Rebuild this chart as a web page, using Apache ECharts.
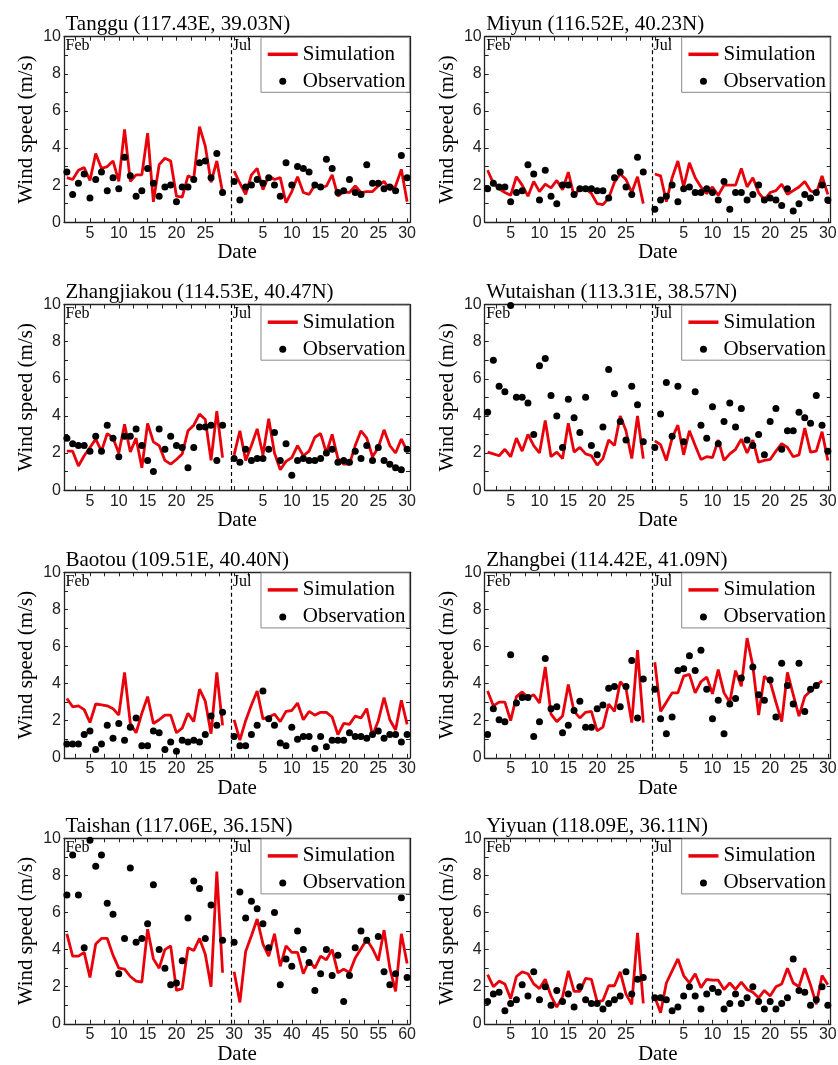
<!DOCTYPE html>
<html lang="en" style="height: 100%">
<head>
<meta charset="utf-8">
<title>Wind speed: simulation vs observation</title>
</head>
<body style="height: 100%; margin: 0; background: #fff">
<div id="container" style="height: 100%"></div>

<script type="text/javascript" src="https://cdn.jsdelivr.net/npm/echarts/dist/echarts.min.js"></script>

<script type="text/javascript">

var stations = [
    'Tanggu (117.43E, 39.03N)', 'Miyun (116.52E, 40.23N)',
    'Zhangjiakou (114.53E, 40.47N)', 'Wutaishan (113.31E, 38.57N)',
    'Baotou (109.51E, 40.40N)', 'Zhangbei (114.42E, 41.09N)',
    'Taishan (117.06E, 36.15N)', 'Yiyuan (118.09E, 36.11N)'
];

// Feb 1..28 sits at x = 1..28, Jul 1..31 at x = 30..60 (dashed divider at 29.5)
var febSim = [
    [2.4, 2.3, 2.8, 2.95, 2.25, 3.7, 2.9, 3.0, 3.3, 2.2, 5.0, 2.2, 2.55, 2.55, 4.8, 1.1, 3.1, 3.45, 3.3, 1.4, 1.35, 2.5, 2.35, 5.15, 4.1, 2.15, 3.3, 1.6],
    [2.8, 2.1, 1.8, 1.6, 1.45, 2.45, 2.0, 1.4, 2.2, 1.65, 2.05, 1.85, 2.25, 1.75, 2.7, 1.4, 1.85, 1.8, 1.55, 1.0, 0.95, 1.3, 2.15, 2.6, 2.3, 1.6, 2.45, 1.0],
    [2.1, 2.1, 1.3, 1.85, 2.3, 2.75, 2.1, 3.05, 2.8, 2.0, 3.55, 2.05, 2.8, 1.2, 3.6, 2.6, 2.4, 1.6, 1.4, 1.65, 1.95, 3.2, 3.5, 4.1, 3.8, 1.6, 4.25, 1.75],
    [2.05, 1.95, 1.85, 2.2, 1.8, 2.8, 2.1, 3.0, 2.4, 2.0, 3.75, 1.8, 2.05, 1.7, 3.6, 2.05, 2.3, 1.95, 1.85, 1.35, 1.7, 2.7, 2.4, 4.0, 3.2, 1.7, 4.0, 1.7],
    [3.2, 2.75, 2.8, 2.6, 1.9, 2.9, 2.85, 2.8, 2.65, 2.3, 4.6, 1.85, 1.35, 2.4, 3.3, 1.85, 2.05, 2.3, 2.3, 1.35, 1.6, 2.4, 1.95, 3.7, 3.05, 1.3, 4.6, 1.75],
    [3.6, 2.8, 3.0, 3.0, 2.0, 3.3, 3.55, 3.25, 3.4, 2.95, 4.9, 2.35, 1.95, 2.25, 3.95, 2.5, 2.15, 2.45, 2.5, 1.45, 1.65, 2.9, 2.5, 4.1, 3.75, 1.9, 5.8, 1.9],
    [4.85, 3.65, 3.65, 3.85, 2.5, 4.3, 4.6, 4.6, 3.7, 3.0, 2.95, 2.55, 2.3, 2.25, 5.1, 3.5, 3.0, 4.0, 4.2, 1.8, 1.9, 4.1, 3.95, 4.6, 3.75, 2.0, 8.2, 2.75],
    [2.65, 2.0, 2.3, 2.15, 1.35, 2.55, 2.8, 2.7, 2.15, 1.9, 2.4, 1.5, 0.9, 1.45, 2.85, 1.75, 1.75, 2.45, 2.4, 1.2, 1.25, 2.05, 2.05, 2.8, 1.6, 1.05, 4.9, 1.1]
];

var febObs = [
    [2.7, 1.5, 2.1, 2.6, 1.3, 2.3, 2.7, 1.7, 2.4, 1.8, 3.5, 2.5, 1.4, 1.7, 2.9, 2.1, 1.4, 1.9, 2.0, 1.1, 1.9, 1.9, 2.3, 3.2, 3.3, 2.4, 3.7, 1.6],
    [1.8, 2.1, 1.9, 1.9, 1.1, 1.6, 1.7, 3.1, 2.6, 1.2, 2.8, 1.4, 1.0, 2.0, 2.0, 1.5, 1.8, 1.8, 1.8, 1.7, 1.7, 1.3, 2.4, 2.7, 1.9, 1.5, 3.5, 2.7],
    [2.8, 2.5, 2.4, 2.4, 2.1, 2.9, 2.1, 3.5, 2.8, 1.8, 2.9, 2.9, 3.3, 2.4, 1.6, 1.0, 3.3, 2.2, 2.9, 2.4, 2.3, 1.2, 2.3, 3.4, 3.4, 3.5, 1.6, 3.5],
    [4.2, 7.0, 5.6, 5.3, 9.95, 5.0, 5.0, 4.7, 3.0, 6.7, 7.1, 5.1, 4.0, 2.3, 4.9, 3.9, 3.1, 5.0, 2.4, 1.9, 3.4, 6.5, 5.2, 3.7, 2.7, 5.6, 4.6, 2.6],
    [0.75, 0.75, 0.75, 1.25, 1.45, 0.45, 0.75, 1.75, 1.05, 1.85, 0.95, 1.65, 2.15, 0.65, 0.65, 1.45, 1.35, 0.45, 0.85, 0.35, 0.95, 0.85, 0.95, 0.85, 1.25, 2.25, 1.75, 2.45],
    [1.25, 2.65, 2.05, 1.95, 5.55, 2.95, 3.25, 3.25, 1.15, 1.95, 5.35, 2.65, 2.75, 1.35, 1.75, 2.55, 3.05, 1.65, 1.65, 2.65, 2.85, 3.75, 3.85, 2.75, 3.85, 5.25, 2.15, 4.25],
    [6.95, 9.1, 6.95, 4.1, 9.9, 8.5, 9.1, 6.5, 5.9, 2.7, 4.6, 8.4, 4.4, 4.6, 5.4, 7.5, 4.0, 3.0, 2.1, 2.2, 3.4, 5.7, 7.7, 7.3, 4.6, 6.4, null, 4.5],
    [1.2, 1.6, 1.7, 0.7, 1.1, 1.3, 2.1, 1.5, 2.8, 1.3, 2.0, 1.0, 1.8, 1.2, 1.6, 0.9, 2.0, 1.3, 1.1, 1.1, 0.8, 1.1, 1.3, 1.5, 2.8, 1.6, 2.4, 2.5]
];

var julSim = [
    [2.75, 2.1, 1.5, 2.55, 2.9, 1.75, 2.5, 2.3, 2.4, 1.05, 1.65, 2.45, 1.6, 1.5, 2.0, 1.85, 1.95, 2.55, 1.4, 1.65, 1.6, 1.95, 1.6, 1.65, 1.65, 1.95, 2.2, 1.75, 1.95, 2.85, 1.1],
    [2.6, 2.5, 1.1, 2.4, 3.3, 1.9, 3.2, 2.4, 1.9, 1.55, 1.9, 1.45, 2.0, 2.0, 2.0, 2.9, 1.9, 2.4, 1.6, 1.2, 1.6, 1.7, 2.05, 1.5, 1.7, 1.9, 2.2, 1.7, 1.55, 2.5, 1.5],
    [1.9, 3.2, 1.6, 2.4, 3.3, 1.9, 3.85, 2.0, 1.1, 1.55, 1.75, 2.4, 1.85, 2.1, 2.85, 3.05, 2.0, 3.0, 1.7, 1.4, 1.4, 2.4, 3.2, 2.8, 1.8, 2.3, 3.25, 2.4, 2.0, 2.75, 2.1],
    [2.65, 2.45, 1.6, 2.8, 3.5, 1.9, 3.2, 2.4, 1.65, 1.8, 1.75, 2.7, 1.6, 1.95, 2.2, 2.75, 2.0, 2.7, 1.5, 1.6, 1.65, 2.1, 2.5, 2.3, 1.8, 1.9, 3.35, 2.05, 2.1, 3.15, 1.6],
    [2.05, 0.95, 2.0, 2.85, 3.6, 2.1, 2.2, 2.35, 1.95, 2.5, 2.55, 2.95, 2.05, 2.5, 2.3, 2.45, 2.45, 2.2, 1.25, 1.85, 1.8, 2.25, 2.15, 2.65, 1.2, 2.0, 3.25, 2.05, 1.5, 3.1, 1.8],
    [5.15, 2.5, 3.0, 3.5, 3.5, 4.4, 4.5, 3.5, 4.1, 4.35, 3.45, 4.75, 3.5, 3.0, 4.7, 3.85, 6.45, 4.95, 2.3, 4.4, 4.1, 3.0, 1.95, 4.6, 3.4, 2.25, 3.3, 3.6, 3.9, 4.15],
    [2.8, 1.15, 3.9, 4.75, 5.65, 4.3, 3.65, 4.85, 3.1, 4.2, 3.85, 3.85, 2.7, 3.4, 3.0, 3.65, 3.45, 4.0, 2.75, 2.95, 2.75, 3.55, 4.05, 4.55, 4.05, 3.4, 5.05, 3.0, 1.75, 4.85, 3.25],
    [1.45, 0.6, 2.2, 2.85, 3.5, 2.6, 2.2, 2.7, 1.95, 2.4, 2.35, 2.35, 1.85, 2.2, 1.85, 2.25, 1.85, 1.7, 1.4, 1.8, 1.5, 2.0, 2.15, 3.0, 2.2, 2.0, 3.0, 2.1, 1.05, 2.6, 2.1]
];

var julObs = [
    [2.2, 1.2, 1.9, 2.0, 2.3, 2.1, 2.4, 2.0, 1.4, 3.2, 2.0, 3.0, 2.9, 2.7, 2.0, 1.9, 3.4, 2.9, 1.6, 1.7, 2.3, 1.6, 1.5, 3.1, 2.1, 2.1, 1.8, 1.9, 1.7, 3.6, 2.4],
    [0.7, 1.2, 1.4, 2.0, 1.1, 1.8, 1.9, 1.6, 1.6, 1.8, 1.6, 1.2, 2.2, 0.7, 1.6, 1.6, 1.2, 1.5, 2.0, 1.2, 1.3, 1.2, 0.9, 1.8, 0.6, 1.0, 1.5, 1.3, 1.6, 2.0, 1.2],
    [1.7, 1.5, 2.2, 1.6, 1.7, 1.7, 2.2, 3.1, 1.6, 2.5, 0.8, 1.6, 1.7, 1.6, 1.6, 1.7, 2.0, 2.2, 1.5, 1.6, 1.5, 2.1, 1.7, 2.4, 1.6, 2.3, 1.6, 1.4, 1.2, 1.1, 2.2],
    [2.3, 4.1, 5.8, 2.9, 5.6, 2.6, null, 5.3, 3.5, 2.8, 4.5, 2.5, 3.7, 4.7, 3.4, 4.4, 2.7, 2.4, 3.0, 1.9, 3.7, 4.4, 2.2, 3.2, 3.2, 4.2, 3.9, 3.6, 5.1, 3.5, 2.1],
    [1.15, 0.65, 0.65, 1.25, 1.75, 3.6, 2.1, 1.75, 0.8, 0.65, 1.65, 1.0, 1.15, 1.15, 0.5, 1.15, 0.6, 0.95, 0.95, 0.95, 1.35, 1.15, 1.15, 1.05, 1.25, 1.45, 1.05, 1.25, 1.25, 0.85, 1.25],
    [3.7, 2.1, 1.3, 2.2, 4.7, 4.8, 5.5, 4.7, 5.8, 3.7, 2.1, 3.1, 1.3, 2.9, 3.2, 4.3, null, 4.9, 3.4, 3.1, 4.2, 2.2, 5.1, 3.9, 2.9, 5.1, 2.5, 3.7, 3.9],
    [4.4, 7.1, 5.7, 6.6, 6.2, 5.4, 4.1, 6.0, 2.1, 3.5, 3.1, 5.0, 4.0, 3.3, 1.8, 2.7, 4.0, 2.6, 3.7, 1.2, 2.6, 4.1, 5.0, 4.5, null, 4.7, 2.8, 2.1, 2.7, 6.8, 2.5],
    [1.4, 1.4, 1.3, 0.7, 0.9, 1.5, 2.0, 1.5, 0.8, 1.6, 1.9, 1.7, 0.8, 1.1, 1.6, 1.1, 1.4, 2.0, 1.2, 0.8, 1.2, 0.8, 1.1, 1.4, 3.5, 1.8, 1.7, 1.0, 1.3, 2.0, 1.0]
];

// x tick labels
var dayTickPos = [5, 10, 15, 20, 25, 35, 40, 45, 50, 55, 60];
var dayTickText = ['5', '10', '15', '20', '25', '5', '10', '15', '20', '25', '30'];
var yiyuanTickText = ['5', '10', '15', '20', '25', '5', '10', '15', '20', '55', '30'];
var runTickPos = [5, 10, 15, 20, 25, 30, 35, 40, 45, 50, 55, 60];
var runTickText = ['5', '10', '15', '20', '25', '30', '35', '40', '45', '50', '55', '60'];
var xMinorTicks = [2.5, 5, 7.5, 10, 12.5, 15, 17.5, 20, 22.5, 25, 27.5, 30, 32.5, 35, 37.5, 40, 42.5, 45, 47.5, 50, 52.5, 55, 57.5, 60];
var yTicks = [0, 1, 2, 3, 4, 5, 6, 7, 8, 9, 10];

var dom = document.getElementById('container');
var myChart = echarts.init(dom, null, { width: 838, height: 1065 });

var serif = '"Liberation Serif", "Times New Roman", serif';
var sans = '"Liberation Sans", Arial, sans-serif';
var colLeft = [64, 484.7];
var rowTop = [36.7, 304.6, 572.3, 838.3];
var plotW = 346, plotH = 185.5;
var axisColor = '#222';
var red = '#e8000b';

var grids = [], xAxes = [], yAxes = [], series = [], titles = [], legends = [];

stations.forEach(function (name, k) {
    var left = colLeft[k % 2];
    var top = rowTop[Math.floor(k / 2)];
    var tickPos = k === 6 ? runTickPos : dayTickPos;
    var tickText = k === 6 ? runTickText : (k === 7 ? yiyuanTickText : dayTickText);

    grids.push({ left: left, top: top, width: plotW, height: plotH, containLabel: false, outerBoundsMode: 'none' });

    titles.push({
        text: name, left: left + 1.5, top: top - 22.7, padding: 0,
        textStyle: { fontFamily: serif, fontSize: 21, fontWeight: 'normal', color: '#000', lineHeight: 21 }
    });

    legends.push({
        left: left + 197, top: top + 0.6, orient: 'vertical',
        padding: [6, 4, 0, 5], itemGap: 5, itemWidth: 30, itemHeight: 7,
        borderColor: '#888', borderWidth: 1, borderRadius: 0, backgroundColor: '#fff',
        selectedMode: false,
        textStyle: { fontFamily: serif, fontSize: 21, color: '#000', lineHeight: 22 },
        data: [
            { name: 'Simulation', itemStyle: { opacity: 0 }, lineStyle: { width: 3.5 } },
            { name: 'Observation', itemStyle: { opacity: 1 } }
        ]
    });

    var line = { onZero: false, lineStyle: { color: axisColor, width: 1.3 } };
    xAxes.push({
        gridIndex: k, type: 'value', position: 'bottom', min: 0.5, max: 60.5,
        axisLine: line,
        axisTick: { show: true, inside: true, length: 4, customValues: xMinorTicks, lineStyle: { color: axisColor, width: 1 } },
        axisLabel: {
            customValues: tickPos, margin: 3, fontFamily: sans, fontSize: 16, color: '#222',
            formatter: function (v) { return tickText[tickPos.indexOf(v)]; }
        },
        splitLine: { show: false },
        name: 'Date', nameLocation: 'middle', nameGap: 14,
        nameTextStyle: { fontFamily: serif, fontSize: 21, color: '#000', lineHeight: 21 }
    });
    xAxes.push({
        gridIndex: k, type: 'value', position: 'top', min: 0.5, max: 60.5,
        axisLine: line,
        axisTick: { show: true, inside: true, length: 4, customValues: xMinorTicks, lineStyle: { color: axisColor, width: 1 } },
        axisLabel: { show: false },
        splitLine: { show: false }
    });
    yAxes.push({
        gridIndex: k, type: 'value', position: 'left', min: 0, max: 10, interval: 2,
        axisLine: line,
        axisTick: { show: true, inside: true, length: 4, customValues: yTicks, lineStyle: { color: axisColor, width: 1 } },
        axisLabel: { margin: 3, fontFamily: sans, fontSize: 16, color: '#222' },
        splitLine: { show: false },
        name: 'Wind speed (m/s)', nameLocation: 'middle', nameGap: 27,
        nameTextStyle: { fontFamily: serif, fontSize: 21, color: '#000', lineHeight: 21 }
    });
    yAxes.push({
        gridIndex: k, type: 'value', position: 'right', min: 0, max: 10, interval: 2,
        axisLine: line,
        axisTick: { show: true, inside: true, length: 4, customValues: yTicks, lineStyle: { color: axisColor, width: 1 } },
        axisLabel: { show: false },
        splitLine: { show: false }
    });

    var simData = febSim[k].map(function (v, i) { return [i + 1, v]; })
        .concat([[29, '-']])
        .concat(julSim[k].map(function (v, i) { return [30 + i, v]; }));
    var obsData = febObs[k].map(function (v, i) { return [i + 1, v]; })
        .concat(julObs[k].map(function (v, i) { return [30 + i, v]; }))
        .filter(function (p) { return p[1] !== null; });

    series.push({
        name: 'Simulation', type: 'line', xAxisIndex: 2 * k, yAxisIndex: 2 * k,
        data: simData, symbol: 'none', connectNulls: false, z: 2,
        lineStyle: { color: red, width: 2.8 }, itemStyle: { color: red },
        markLine: {
            silent: true, symbol: ['none', 'none'], label: { show: false },
            lineStyle: { color: '#000', type: [4, 3], width: 1.2 },
            data: [{ xAxis: 29.5 }]
        }
    });
    series.push({
        name: 'Observation', type: 'scatter', xAxisIndex: 2 * k, yAxisIndex: 2 * k,
        data: obsData, symbol: 'circle', symbolSize: 7, z: 3,
        itemStyle: { color: '#000', opacity: 1 },
        markPoint: {
            silent: true, symbol: 'rect', symbolSize: 1,
            itemStyle: { color: 'rgba(0,0,0,0)' },
            label: {
                show: true, position: 'insideTopLeft', distance: 2, formatter: '{b}',
                fontFamily: serif, fontSize: 16, color: '#000'
            },
            data: [{ name: 'Feb', coord: [0.5, 10] }, { name: 'Jul', coord: [29.5, 10] }]
        }
    });
});

var option = {
    animation: false,
    backgroundColor: '#fff',
    title: titles,
    legend: legends,
    grid: grids,
    xAxis: xAxes,
    yAxis: yAxes,
    series: series
};

if (option && typeof option === 'object') {
    myChart.setOption(option);
}

window.addEventListener('resize', myChart.resize);
</script>
</body>
</html>
